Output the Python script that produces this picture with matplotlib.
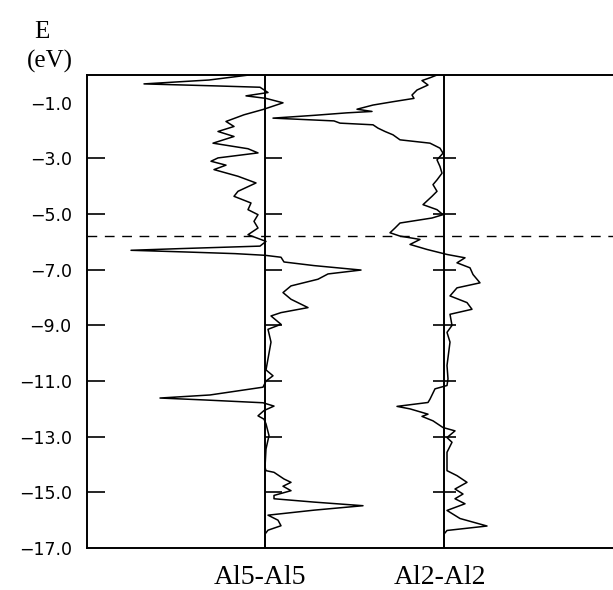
"""COOP de los contactos Al5-Al5 y Al2-Al2 frente a la energia (eV)."""
import matplotlib
matplotlib.use("Agg")
import matplotlib.pyplot as plt

# energia (eV) y COOP (unidades arbitrarias)
e_al5 = [0.0, -0.18, -0.32, -0.39, -0.44, -0.63, -0.75, -0.84, -1.0, -1.24,
         -1.43, -1.67, -1.85, -2.03, -2.21, -2.45, -2.65, -2.80, -2.98, -3.1,
         -3.24, -3.4, -3.64, -3.88, -4.18, -4.36, -4.6, -4.84, -5.02, -5.26,
         -5.5, -5.74, -5.98, -6.15, -6.24, -6.30, -6.36, -6.42, -6.48, -6.55,
         -6.72, -6.85, -7.01, -7.15, -7.34, -7.58, -7.82, -8.06, -8.36, -8.54,
         -8.66, -8.96, -9.14, -9.6, -10.2, -10.6, -10.81, -11.0, -11.22, -11.5,
         -11.61, -11.68, -11.78, -11.90, -12.06, -12.25, -12.37, -12.54, -12.96,
         -13.44, -14.1, -14.22, -14.28, -14.52, -14.64, -14.78, -14.94, -15.11,
         -15.23, -15.35, -15.48, -15.64, -15.82, -16.0, -16.2, -16.36, -16.5,
         -17.0]
coop_al5 = [-0.16, -0.56, -1.21, -0.51, -0.05, 0.03, -0.19, 0.01, 0.18, -0.02,
            -0.21, -0.39, -0.31, -0.47, -0.31, -0.52, -0.17, -0.07, -0.47, -0.54,
            -0.39, -0.51, -0.27, -0.09, -0.27, -0.31, -0.14, -0.17, -0.07, -0.11,
            -0.07, -0.17, 0.01, -0.05, -0.85, -1.34, -0.8, -0.3, 0.0, 0.16,
            0.19, 0.49, 0.96, 0.63, 0.53, 0.26, 0.18, 0.26, 0.43, 0.16,
            0.06, 0.16, 0.03, 0.06, 0.03, 0.01, 0.08, 0.01, -0.02, -0.55,
            -1.05, -0.6, -0.02, 0.09, -0.01, -0.07, -0.01, 0.01, 0.04,
            0.01, 0.0, 0.01, 0.09, 0.19, 0.26, 0.18, 0.26, 0.09,
            0.09, 0.49, 0.98, 0.49, 0.03, 0.13, 0.16, 0.03, 0.0,
            0.0]

e_al2 = [0.0, -0.1, -0.2, -0.36, -0.54, -0.72, -0.84, -0.96, -1.08, -1.23,
         -1.31, -1.36, -1.45, -1.55, -1.65, -1.73, -1.79, -1.91, -2.03, -2.15,
         -2.33, -2.45, -2.63, -2.81, -3.05, -3.29, -3.53, -3.77, -3.94, -4.18,
         -4.36, -4.66, -4.84, -5.02, -5.14, -5.32, -5.5, -5.67, -5.79, -5.91,
         -6.09, -6.27, -6.45, -6.57, -6.75, -6.93, -7.17, -7.47, -7.65, -7.94,
         -8.18, -8.42, -8.6, -9.0, -9.25, -9.6, -10.44, -10.92, -11.16, -11.28,
         -11.65, -11.77, -11.91, -12.0, -12.19, -12.27, -12.43, -12.67, -12.79,
         -13.03, -13.2, -13.56, -14.22, -14.4, -14.64, -14.88, -15.06, -15.23,
         -15.41, -15.65, -15.94, -16.21, -16.37, -16.5, -17.0]
coop_al2 = [-0.07, -0.14, -0.22, -0.16, -0.27, -0.32, -0.30, -0.51, -0.71, -0.87,
            -0.72, -0.97, -1.3, -1.71, -1.1, -1.04, -0.71, -0.66, -0.59, -0.51,
            -0.44, -0.14, -0.04, -0.01, -0.07, -0.04, -0.02, -0.07, -0.11, -0.07,
            -0.12, -0.21, -0.07, -0.01, -0.12, -0.44, -0.49, -0.54, -0.44, -0.24,
            -0.34, -0.17, 0.03, 0.21, 0.13, 0.26, 0.29, 0.36, 0.13, 0.06,
            0.23, 0.28, 0.06, 0.08, 0.03, 0.06, 0.03, 0.04, 0.03, -0.09,
            -0.14, -0.16, -0.47, -0.34, -0.16, -0.22, -0.11, -0.01, 0.11,
            0.03, 0.08, 0.03, 0.03, 0.13, 0.23, 0.11, 0.19, 0.11,
            0.21, 0.03, 0.16, 0.43, 0.03, 0.0, 0.0]

etiquetas = ["Al5-Al5", "Al2-Al2"]
e_fermi = -5.77
ticks_e = [-1.0, -3.0, -5.0, -7.0, -9.0, -11.0, -13.0, -15.0, -17.0]

desplaz = 1.79  # separacion horizontal entre las dos curvas
SERIF = "Liberation Serif"

fig = plt.figure(figsize=(6.13, 5.90), dpi=100)
ax = fig.add_axes([87 / 613, 42 / 590, 540 / 613, 473 / 590])

ax.plot(coop_al5, e_al5, color="black", lw=1.1)
ax.plot([c + desplaz for c in coop_al2], e_al2, color="black", lw=1.1)
ax.axvline(0.0, color="black", lw=1.4)
ax.axvline(desplaz, color="black", lw=1.4)
ax.axhline(e_fermi, color="black", lw=1.0, ls=(0, (7, 5.5)))

# marcas sobre las lineas de cero
marcas = ticks_e[1:-1]
ax.hlines(marcas, 0.0, 0.17, color="black", lw=1.2)
ax.hlines(marcas, desplaz - 0.11, desplaz + 0.12, color="black", lw=1.2)

ax.set_xlim(-1.78, 3.62)
ax.set_ylim(-17.0, 0.0)
ax.set_xticks([])
ax.set_yticks(ticks_e)
ax.set_yticklabels([f"\u2212{abs(t):.1f}" for t in ticks_e])
ax.tick_params(axis="y", direction="in", length=13, width=1.2, pad=11,
               labelsize=12.5)
for t in (ax.yaxis.get_major_ticks()[0], ax.yaxis.get_major_ticks()[-1]):
    t.tick1line.set_visible(False)
ax.spines["right"].set_visible(False)
for s in ("left", "top", "bottom"):
    ax.spines[s].set_linewidth(1.4)

fig.text(42 / 613, 1 - 32 / 590, "E", family=SERIF, fontsize=18,
         ha="center", va="center")
fig.text(50 / 613, 1 - 61 / 590, "(eV)", family=SERIF, fontsize=18,
         ha="center", va="center")
for xc, txt in zip((260, 440), etiquetas):
    fig.text(xc / 613, 6 / 590, txt, family=SERIF, fontsize=20,
             ha="center", va="baseline")

fig.savefig("out.png", dpi=100)
